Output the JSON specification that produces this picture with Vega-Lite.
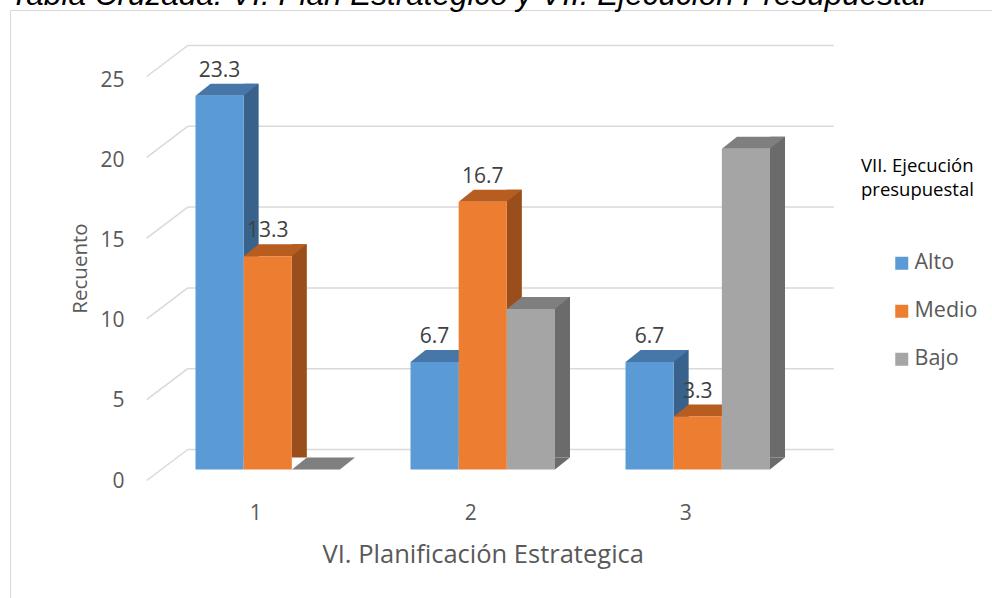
{
  "$schema": "https://vega.github.io/schema/vega-lite/v6.json",
  "width": 982,
  "height": 588,
  "autosize": "none",
  "padding": {"left": 10, "top": 10, "right": 0, "bottom": 0},
  "background": "white",
  "title": {
    "text": "Tabla Cruzada: VI. Plan Estrategico y VII. Ejecución Presupuestal",
    "anchor": "start",
    "frame": "group",
    "font": "Liberation Sans",
    "fontStyle": "italic",
    "fontWeight": "normal",
    "fontSize": 31.5,
    "color": "#000000",
    "baseline": "alphabetic",
    "offset": -26
  },
  "config": {
    "view": {"stroke": "#d9d9d9", "strokeWidth": 1},
    "font": "Open Sans"
  },
  "datasets": {
    "tabla": [
      {"cat": "1", "nivel": "Alto", "valor": 23.3},
      {"cat": "1", "nivel": "Medio", "valor": 13.3},
      {"cat": "1", "nivel": "Bajo", "valor": 0},
      {"cat": "2", "nivel": "Alto", "valor": 6.7},
      {"cat": "2", "nivel": "Medio", "valor": 16.7},
      {"cat": "2", "nivel": "Bajo", "valor": 10},
      {"cat": "3", "nivel": "Alto", "valor": 6.7},
      {"cat": "3", "nivel": "Medio", "valor": 3.3},
      {"cat": "3", "nivel": "Bajo", "valor": 20}
    ],
    "rejilla": [{"v": 0}, {"v": 5}, {"v": 10}, {"v": 15}, {"v": 20}, {"v": 25}]
  },
  "layer": [
    {
      "data": {"name": "rejilla"},
      "encoding": {
        "y": {"field": "v", "type": "quantitative", "scale": {"domain": [0, 25], "range": [439.5, 35.5], "nice": false, "zero": true}, "axis": null}
      },
      "layer": [
        {
          "mark": {"type": "rule", "color": "#d9d9d9", "strokeWidth": 1.5, "xOffset": -80, "x2Offset": 136},
          "encoding": {
            "x": {"datum": "1", "type": "nominal"},
            "x2": {"datum": "3"}
          }
        },
        {
          "mark": {"type": "rule", "color": "#d9d9d9", "strokeWidth": 1.5, "xOffset": -121, "x2Offset": -80, "yOffset": 31, "y2Offset": 0},
          "encoding": {
            "x": {"datum": "1", "type": "nominal"},
            "x2": {"datum": "1"},
            "y2": {"field": "v"}
          }
        }
      ]
    },
    {
      "data": {"name": "tabla"},
      "layer": [
        {
          "transform": [{"filter": "datum.nivel === 'Alto' && datum.valor > 0"}],
          "mark": {"type": "bar", "width": 15, "xOffset": -16.6, "yOffset": -12, "y2Offset": -12, "color": "#38628b"},
          "encoding": {
            "x": {"field": "cat", "type": "nominal"},
            "y": {"field": "valor", "type": "quantitative"},
            "y2": {"datum": 0}
          }
        },
        {
          "transform": [{"filter": "datum.nivel === 'Medio' && datum.valor > 0"}],
          "mark": {"type": "bar", "width": 15, "xOffset": 31.6, "yOffset": -12, "y2Offset": -12, "color": "#9a4e1c"},
          "encoding": {
            "x": {"field": "cat", "type": "nominal"},
            "y": {"field": "valor", "type": "quantitative"},
            "y2": {"datum": 0}
          }
        },
        {
          "transform": [{"filter": "datum.nivel === 'Bajo' && datum.valor > 0"}],
          "mark": {"type": "bar", "width": 15, "xOffset": 79.75, "yOffset": -12, "y2Offset": -12, "color": "#6b6b6b"},
          "encoding": {
            "x": {"field": "cat", "type": "nominal"},
            "y": {"field": "valor", "type": "quantitative"},
            "y2": {"datum": 0}
          }
        },
        {
          "transform": [{"filter": "datum.nivel === 'Bajo' && datum.valor > 0"}],
          "mark": {"type": "point", "shape": "M24,0L24,-12L39,-12Z", "size": 4, "filled": true, "opacity": 1, "strokeWidth": 0, "xOffset": 48.17, "color": "#6b6b6b"},
          "encoding": {
            "x": {"field": "cat", "type": "nominal"},
            "y": {"datum": 0, "type": "quantitative"}
          }
        },
        {
          "transform": [{"filter": "datum.nivel === 'Alto'"}],
          "mark": {"type": "point", "shape": "M-24,0L24,0L39,-12L-9,-12Z", "size": 4, "filled": true, "opacity": 1, "strokeWidth": 0, "xOffset": -48.17, "color": "#4677a8"},
          "encoding": {
            "x": {"field": "cat", "type": "nominal"},
            "y": {"field": "valor", "type": "quantitative"}
          }
        },
        {
          "transform": [{"filter": "datum.nivel === 'Medio'"}],
          "mark": {"type": "point", "shape": "M-24,0L24,0L39,-12L-9,-12Z", "size": 4, "filled": true, "opacity": 1, "strokeWidth": 0, "xOffset": 0, "color": "#b75d1f"},
          "encoding": {
            "x": {"field": "cat", "type": "nominal"},
            "y": {"field": "valor", "type": "quantitative"}
          }
        },
        {
          "transform": [{"filter": "datum.nivel === 'Bajo'"}],
          "mark": {"type": "point", "shape": "M-24,0L24,0L39,-12L-9,-12Z", "size": 4, "filled": true, "opacity": 1, "strokeWidth": 0, "xOffset": 48.17, "color": "#7f7f7f"},
          "encoding": {
            "x": {"field": "cat", "type": "nominal"},
            "y": {"field": "valor", "type": "quantitative"}
          }
        },
        {
          "mark": {"type": "bar"},
          "encoding": {
            "x": {
              "field": "cat",
              "type": "nominal",
              "scale": {"range": [185.5, 760], "paddingInner": 0.328, "paddingOuter": 0},
              "axis": {
                "domain": false,
                "ticks": false,
                "grid": false,
                "labelPadding": 0,
                "offset": -85,
                "labelOffset": -6,
                "labelAngle": 0,
                "labelFont": "Open Sans",
                "labelFontSize": 21,
                "labelColor": "#595959",
                "title": "VI. Planificación Estrategica",
                "titleFont": "Open Sans",
                "titleFontSize": 25.5,
                "titleFontWeight": "normal",
                "titleColor": "#595959",
                "titleBaseline": "top",
                "titleY": 29
              }
            },
            "xOffset": {
              "field": "nivel",
              "type": "nominal",
              "scale": {"domain": ["Alto", "Medio", "Bajo"], "paddingInner": 0, "paddingOuter": 0}
            },
            "y": {
              "field": "valor",
              "type": "quantitative",
              "scale": {"domain": [0, 25], "range": [459.5, 58.5], "nice": false, "zero": true},
              "axis": {
                "values": [0, 5, 10, 15, 20, 25],
                "domain": false,
                "ticks": false,
                "tickSize": 0,
                "grid": false,
                "labelPadding": 0,
                "offset": -114,
                "labelOffset": 11.5,
                "labelFont": "Open Sans",
                "labelFontSize": 21,
                "labelColor": "#595959",
                "title": "Recuento",
                "titleFont": "Open Sans",
                "titleFontSize": 20.5,
                "titleFontWeight": "normal",
                "titleColor": "#595959",
                "titleX": -44,
                "titleY": 258,
                "titleBaseline": "middle"
              }
            },
            "color": {
              "field": "nivel",
              "type": "nominal",
              "scale": {"domain": ["Alto", "Medio", "Bajo"], "range": ["#5b9bd5", "#ed7d31", "#a5a5a5"]},
              "legend": {
                "orient": "none",
                "legendX": 851,
                "legendY": 147,
                "padding": 0,
                "title": ["VII. Ejecución", "presupuestal"],
                "titleFont": "Open Sans",
                "titleFontSize": 18.5,
                "titleFontWeight": "normal",
                "titleColor": "#000000",
                "titleLineHeight": 24,
                "titlePadding": 53,
                "symbolType": "square",
                "symbolSize": 169,
                "symbolStrokeWidth": 0,
                "symbolOffset": 30,
                "labelFont": "Open Sans",
                "labelFontSize": 21.5,
                "labelColor": "#595959",
                "labelOffset": 2,
                "rowPadding": 25
              }
            }
          }
        },
        {
          "transform": [{"filter": "datum.nivel !== 'Bajo'"}],
          "mark": {"type": "text", "dy": -25, "baseline": "middle", "font": "Open Sans", "fontSize": 21, "color": "#404040"},
          "encoding": {
            "x": {"field": "cat", "type": "nominal"},
            "xOffset": {"field": "nivel", "type": "nominal"},
            "y": {"field": "valor", "type": "quantitative"},
            "text": {"field": "valor", "type": "quantitative", "format": ".1f"}
          }
        }
      ]
    }
  ],
  "resolve": {"scale": {"y": "independent"}}
}
